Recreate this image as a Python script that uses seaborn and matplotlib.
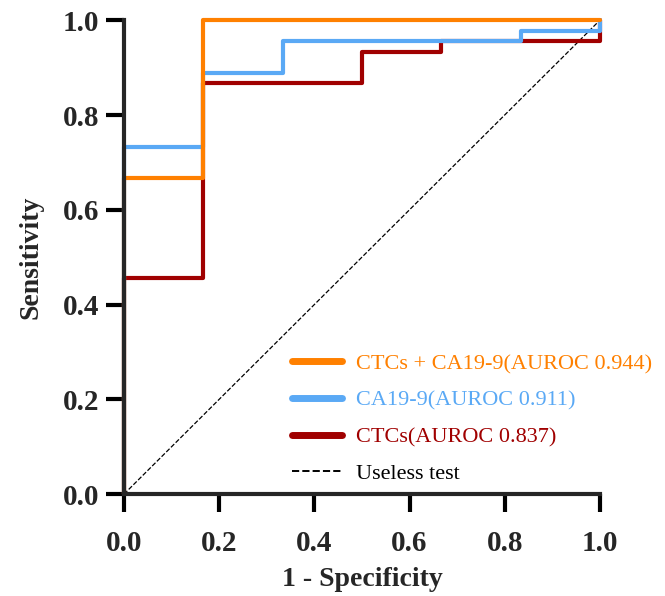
import matplotlib
matplotlib.use('Agg')
import matplotlib.pyplot as plt
import seaborn as sns
import pandas as pd

# ── Data (ROC step points) ────────────────────────────────────────────────
combo_fpr = [0.0, 0.0, 0.1667, 0.1667, 1.0]
combo_tpr = [0.0, 0.667, 0.667, 1.0, 1.0]

ca199_fpr = [0.0, 0.0, 0.1667, 0.1667, 0.3333, 0.3333, 0.8333, 0.8333, 1.0, 1.0]
ca199_tpr = [0.0, 0.733, 0.733, 0.889, 0.889, 0.956, 0.956, 0.978, 0.978, 1.0]

ctc_fpr = [0.0, 0.0, 0.1667, 0.1667, 0.5, 0.5, 0.6667, 0.6667, 1.0, 1.0]
ctc_tpr = [0.0, 0.455, 0.455, 0.867, 0.867, 0.933, 0.933, 0.956, 0.956, 1.0]

ref_x = [0.0, 1.0]
ref_y = [0.0, 1.0]

labels = ['CTCs + CA19-9(AUROC 0.944)', 'CA19-9(AUROC 0.911)',
          'CTCs(AUROC 0.837)', 'Useless test']
colors = ['#FF8000', '#5AA9F5', '#A00000', 'black']
ticks = [0.0, 0.2, 0.4, 0.6, 0.8, 1.0]

# ── Plot ──────────────────────────────────────────────────────────────────
sns.set_style('ticks')
plt.rcParams['font.family'] = ['Liberation Serif', 'DejaVu Serif']

fig = plt.figure(figsize=(6.65, 5.96), dpi=100)
ax = fig.add_axes([0.1865, 0.171, 0.7155, 0.795])

sns.lineplot(x=ref_x, y=ref_y, ax=ax, color='black', lw=0.9, ls='--',
             dashes=(4, 2), label=labels[3], estimator=None, sort=False)
sns.lineplot(x=ctc_fpr, y=ctc_tpr, ax=ax, color=colors[2], lw=3,
             label=labels[2], estimator=None, sort=False, clip_on=False)
sns.lineplot(x=ca199_fpr, y=ca199_tpr, ax=ax, color=colors[1], lw=3,
             label=labels[1], estimator=None, sort=False, clip_on=False)
sns.lineplot(x=combo_fpr, y=combo_tpr, ax=ax, color=colors[0], lw=3,
             label=labels[0], estimator=None, sort=False, clip_on=False)

ax.set_xlim(0, 1)
ax.set_ylim(0, 1)
ax.set_xticks(ticks)
ax.set_yticks(ticks)
ax.set_xticklabels([f'{t:.1f}' for t in ticks], fontsize=21, fontweight='bold')
ax.set_yticklabels([f'{t:.1f}' for t in ticks], fontsize=21, fontweight='bold')
ax.set_xlabel('1 - Specificity', fontsize=20, fontweight='bold', labelpad=7)
ax.set_ylabel('Sensitivity', fontsize=20, fontweight='bold', labelpad=14)

sns.despine(ax=ax)
for s in ['left', 'bottom']:
    ax.spines[s].set_linewidth(3)
ax.tick_params(width=3, length=13, color='black')
ax.tick_params(axis='x', pad=13)
ax.tick_params(axis='y', pad=5)

# legend: orange, blue, red, dashed
handles, labs = ax.get_legend_handles_labels()
order = [labs.index(l) for l in labels]
leg = ax.legend([handles[i] for i in order], [labs[i] for i in order],
                loc='upper left', bbox_to_anchor=(0.335, 0.315), frameon=False,
                fontsize=16, handlelength=2.25, labelspacing=0.72,
                handletextpad=0.6, borderaxespad=0)
for txt, c in zip(leg.get_texts(), colors):
    txt.set_color(c)
for line in leg.get_lines()[:3]:
    line.set_linewidth(5)
    line.set_solid_capstyle('round')
leg.get_lines()[3].set_linewidth(1.4)

fig.savefig('out.png', dpi=100)
